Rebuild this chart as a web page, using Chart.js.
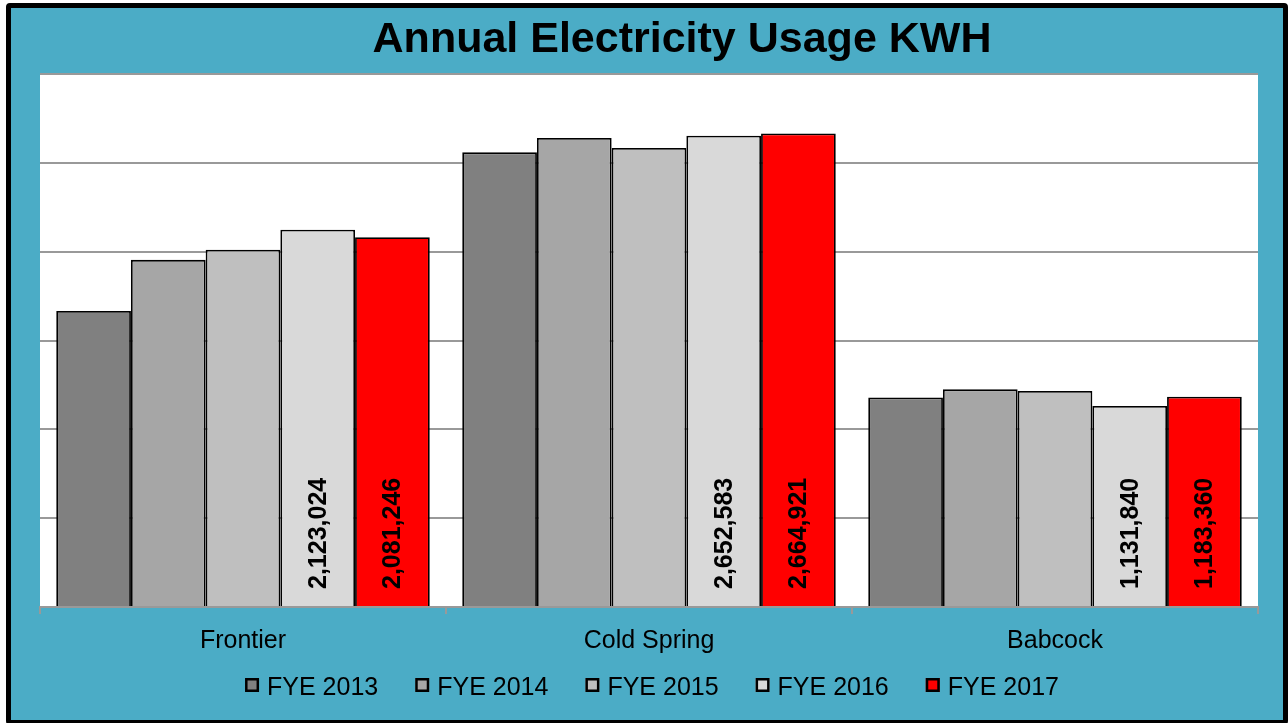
<!DOCTYPE html>
<html>
<head>
<meta charset="utf-8">
<title>Annual Electricity Usage KWH</title>
<script src="https://cdn.jsdelivr.net/npm/chart.js@4.4.1/dist/chart.umd.min.js"></script>
<style>
  html, body { margin: 0; padding: 0; background: #fff; overflow: hidden; }
  #frame {
    position: absolute; left: 6px; top: 3px;
    width: 1272px; height: 712px;
    border: 5px solid #000; border-radius: 4px;
    background: #4BACC6;
  }
  canvas { display: block; }
</style>
</head>
<body>
<div id="frame"><canvas id="chart" width="1272" height="712"></canvas></div>
<script>
// sites on the x axis
const sites = ['Frontier', 'Cold Spring', 'Babcock'];

// yearly usage per site (kWh)
const fye2013 = [1666000, 2559000, 1179000];
const fye2014 = [1954000, 2640000, 1225000];
const fye2015 = [2011000, 2584000, 1216000];
const fye2016 = [2123024, 2652583, 1131840];
const fye2017 = [2081246, 2664921, 1183360];

const seriesNames = ['FYE 2013', 'FYE 2014', 'FYE 2015', 'FYE 2016', 'FYE 2017'];
const seriesColors = ['#808080', '#A6A6A6', '#BFBFBF', '#D9D9D9', '#FF0000'];
// only the last two years get value labels
const labelledSeries = ['FYE 2016', 'FYE 2017'];

// y gridlines (axis labels are hidden)
const yTicks = [0, 500000, 1000000, 1500000, 2000000, 2500000, 3000000];

const chartTitle = 'Annual Electricity Usage KWH';
const FONT = '"Liberation Sans", Arial, Helvetica, sans-serif';

const values = [fye2013, fye2014, fye2015, fye2016, fye2017];

// white plot area behind the bars
const plotBackground = {
    id: 'plotBackground',
    beforeDraw(chart) {
        const { ctx, chartArea: a } = chart;
        ctx.save();
        ctx.fillStyle = '#ffffff';
        ctx.fillRect(a.left, a.top, a.right - a.left, a.bottom - a.top);
        ctx.restore();
    }
};

// vertical value labels sitting near the bottom of the bar
const barValueLabels = {
    id: 'barValueLabels',
    afterDatasetsDraw(chart) {
        const ctx = chart.ctx;
        ctx.save();
        ctx.font = 'bold 25px ' + FONT;
        ctx.fillStyle = '#000';
        ctx.textAlign = 'left';
        ctx.textBaseline = 'middle';
        chart.data.datasets.forEach((ds, di) => {
            if (!labelledSeries.includes(ds.label)) return;
            chart.getDatasetMeta(di).data.forEach((bar, i) => {
                const txt = ds.data[i].toLocaleString('en-US');
                ctx.save();
                ctx.translate(bar.x + 1, bar.base - 17);
                ctx.rotate(-Math.PI / 2);
                ctx.fillText(txt, 0, 0);
                ctx.restore();
            });
        });
        ctx.restore();
    }
};

// title and legend row
const titleAndLegend = {
    id: 'titleAndLegend',
    afterDraw(chart) {
        const ctx = chart.ctx;
        ctx.save();
        ctx.fillStyle = '#000';
        ctx.font = 'bold 43px ' + FONT;
        ctx.textAlign = 'center';
        ctx.textBaseline = 'alphabetic';
        ctx.fillText(chartTitle, 671, 44);

        ctx.font = '25px ' + FONT;
        ctx.textAlign = 'left';
        const box = 14, textGap = 8, itemGap = 37;
        const widths = seriesNames.map(n => ctx.measureText(n).width);
        const total = widths.reduce((s, w) => s + box + textGap + w, 0) + itemGap * (seriesNames.length - 1);
        let x = 641 - total / 2;
        seriesNames.forEach((name, i) => {
            ctx.fillStyle = seriesColors[i];
            ctx.fillRect(x, 670, box, box);
            ctx.strokeStyle = '#000';
            ctx.lineWidth = 2.5;
            ctx.strokeRect(x + 1.25, 671.25, box - 2.5, box - 2.5);
            ctx.fillStyle = '#000';
            ctx.fillText(name, x + box + textGap, 687);
            x += box + textGap + widths[i] + itemGap;
        });
        ctx.restore();
    }
};

const ctx = document.getElementById('chart').getContext('2d');
new Chart(ctx, {
    type: 'bar',
    data: {
        labels: sites,
        datasets: seriesNames.map((name, i) => ({
            label: name,
            data: values[i],
            backgroundColor: seriesColors[i],
            borderColor: '#000',
            borderWidth: 1.8,
            categoryPercentage: 0.92,
            barPercentage: 1.0
        }))
    },
    options: {
        responsive: false,
        animation: false,
        layout: { padding: { top: 66, left: 29, right: 25, bottom: 0 } },
        plugins: {
            legend: { display: false },
            title: { display: false },
            tooltip: { enabled: false }
        },
        scales: {
            x: {
                offset: true,
                grid: {
                    display: true,
                    offset: true,
                    drawOnChartArea: false,
                    drawTicks: true,
                    tickLength: 7,
                    color: '#999999',
                    lineWidth: 2
                },
                border: { display: true, color: '#999999', width: 2 },
                ticks: {
                    color: '#000',
                    font: { family: FONT, size: 25 },
                    padding: 12,
                    maxRotation: 0
                },
                afterFit(scale) { scale.height = 113; }
            },
            y: {
                min: yTicks[0],
                max: yTicks[yTicks.length - 1],
                afterBuildTicks(scale) { scale.ticks = yTicks.map(v => ({ value: v })); },
                ticks: { display: false },
                grid: { color: '#999999', lineWidth: 2, drawTicks: false },
                border: { display: false },
                afterFit(scale) { scale.width = 0; }
            }
        }
    },
    plugins: [plotBackground, barValueLabels, titleAndLegend]
});
</script>
</body>
</html>
